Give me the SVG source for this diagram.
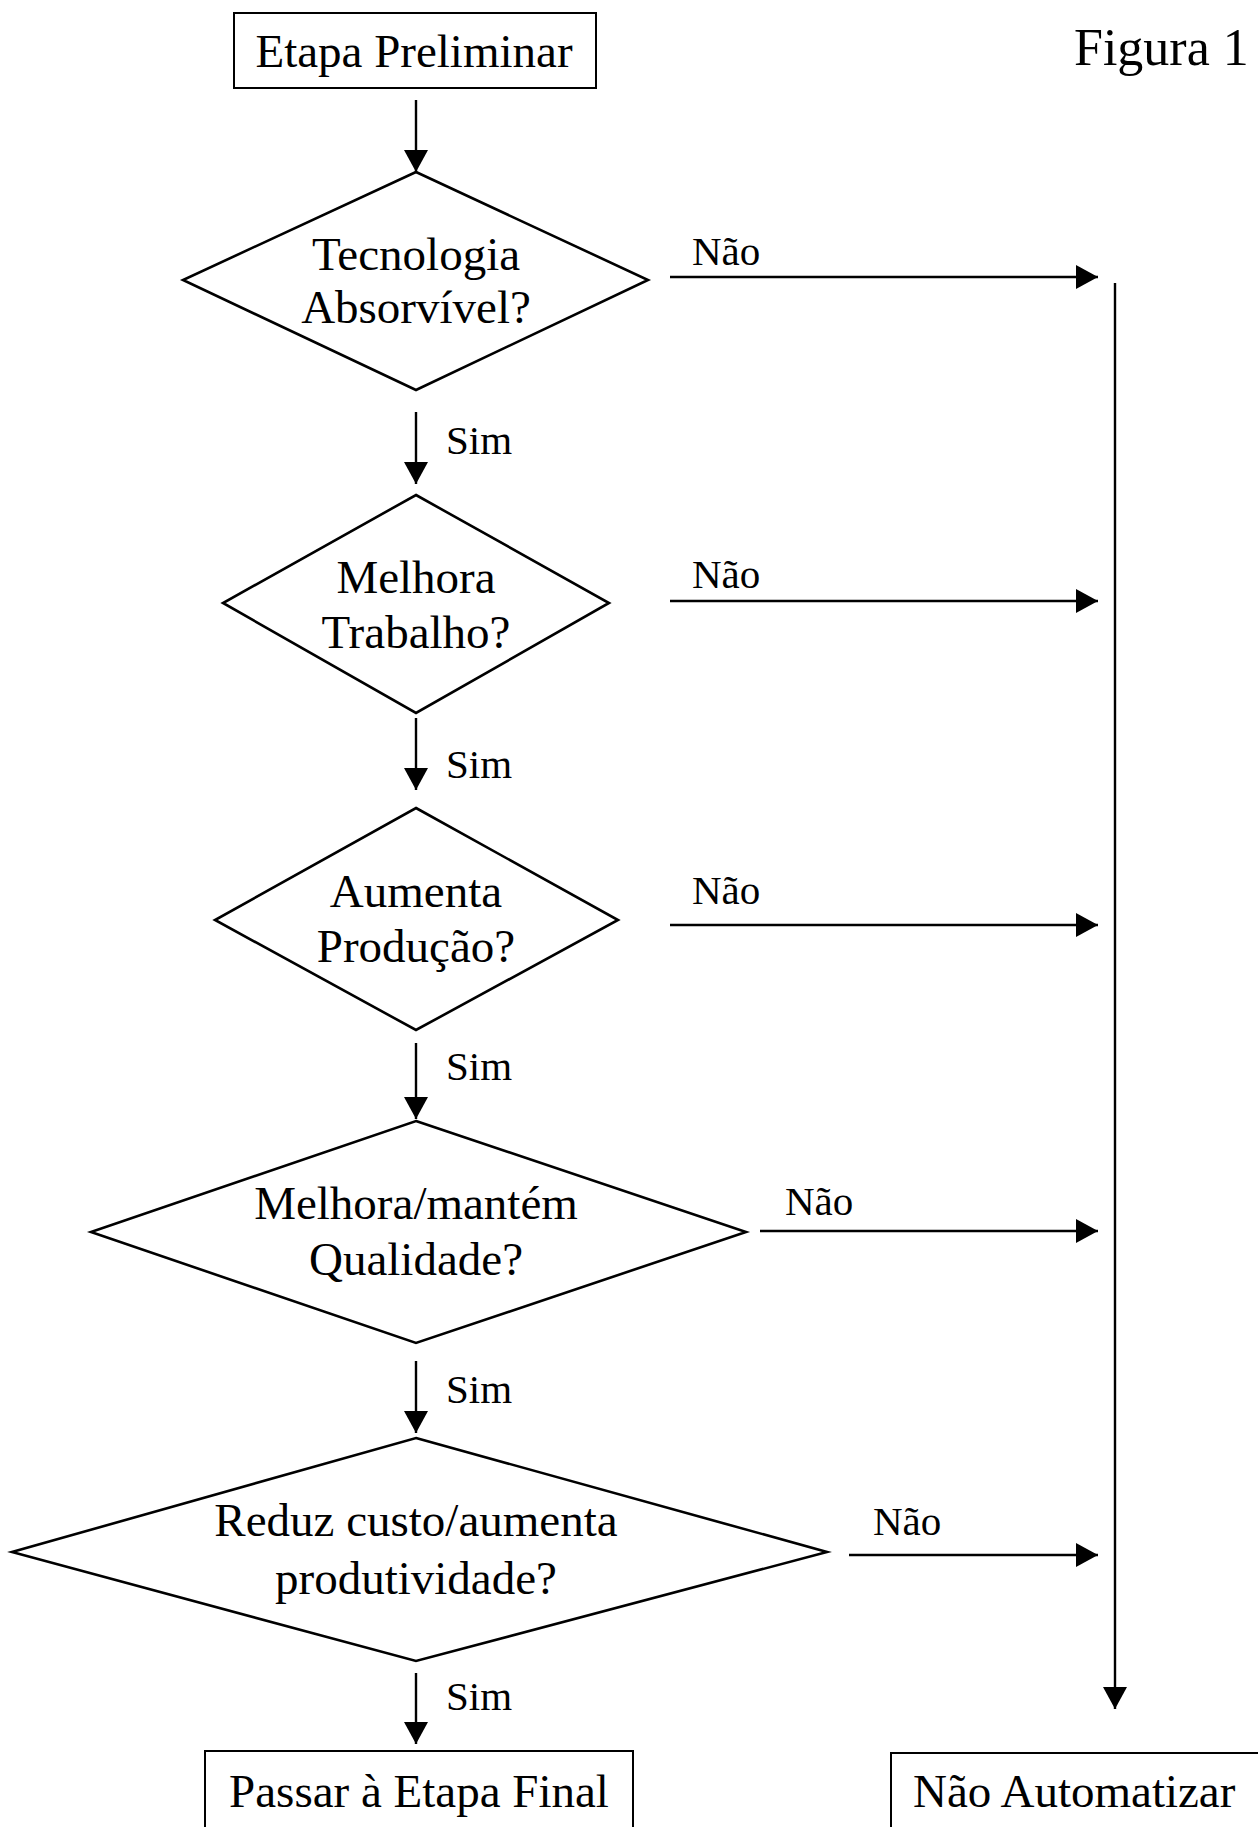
<svg xmlns="http://www.w3.org/2000/svg" width="1258" height="1827" viewBox="0 0 1258 1827">
<style>
.shape{fill:none;stroke:#000;stroke-width:2.6}
.box{fill:none;stroke:#000;stroke-width:2}
.t{font-family:"Liberation Serif","Times New Roman",serif;font-size:47px;fill:#000;text-anchor:middle}
.lbl{font-family:"Liberation Serif","Times New Roman",serif;font-size:41px;fill:#000}
.conn{stroke:#000;stroke-width:2.4;fill:none}
</style>
<defs>
<marker id="ah" markerUnits="userSpaceOnUse" markerWidth="24" markerHeight="24" viewBox="0 0 22 24" refX="22" refY="12" orient="auto">
<path d="M0,0 L22,12 L0,24 Z" fill="#000"/>
</marker>
</defs>
<rect width="1258" height="1827" fill="#fff"/>
<text id="title" class="t" x="1074" y="65" style="text-anchor:start;font-size:52px">Figura 1</text>
<g id="n-preliminar">
<rect class="box" x="234" y="13" width="362" height="75"/>
<text class="t" x="414" y="67">Etapa Preliminar</text>
</g>
<g id="n-tecnologia">
<polygon class="shape" points="416,172 648,280 416,390 183,280"/>
<text class="t" x="416" y="270">Tecnologia</text>
<text class="t" x="416" y="323">Absorvível?</text>
</g>
<g id="n-trabalho">
<polygon class="shape" points="416,495 609,603 416,713 223,603"/>
<text class="t" x="416" y="593">Melhora</text>
<text class="t" x="416" y="648">Trabalho?</text>
</g>
<g id="n-producao">
<polygon class="shape" points="416,808 618,920 416,1030 215,920"/>
<text class="t" x="416" y="907">Aumenta</text>
<text class="t" x="416" y="962">Produção?</text>
</g>
<g id="n-qualidade">
<polygon class="shape" points="416,1121 746,1232 416,1343 91,1232"/>
<text class="t" x="416" y="1219">Melhora/mantém</text>
<text class="t" x="416" y="1275">Qualidade?</text>
</g>
<g id="n-custo">
<polygon class="shape" points="416,1438 827,1552 416,1661 12,1552"/>
<text class="t" x="416" y="1536">Reduz custo/aumenta</text>
<text class="t" x="416" y="1594">produtividade?</text>
</g>
<g id="n-final">
<rect class="box" x="205" y="1751" width="428" height="90"/>
<text class="t" x="419" y="1807">Passar à Etapa Final</text>
</g>
<g id="n-nao-automatizar">
<rect class="box" x="891" y="1753" width="380" height="90"/>
<text class="t" x="913" y="1807" style="text-anchor:start">Não Automatizar</text>
</g>
<g id="connectors">
<line class="conn" x1="416" y1="100" x2="416" y2="172" marker-end="url(#ah)"/>
<line class="conn" x1="416" y1="412" x2="416" y2="484" marker-end="url(#ah)"/>
<line class="conn" x1="416" y1="718" x2="416" y2="790" marker-end="url(#ah)"/>
<line class="conn" x1="416" y1="1043" x2="416" y2="1119" marker-end="url(#ah)"/>
<line class="conn" x1="416" y1="1361" x2="416" y2="1433" marker-end="url(#ah)"/>
<line class="conn" x1="416" y1="1673" x2="416" y2="1744" marker-end="url(#ah)"/>
<line class="conn" x1="670" y1="277" x2="1098" y2="277" marker-end="url(#ah)"/>
<line class="conn" x1="670" y1="601" x2="1098" y2="601" marker-end="url(#ah)"/>
<line class="conn" x1="670" y1="925" x2="1098" y2="925" marker-end="url(#ah)"/>
<line class="conn" x1="760" y1="1231" x2="1098" y2="1231" marker-end="url(#ah)"/>
<line class="conn" x1="849" y1="1555" x2="1098" y2="1555" marker-end="url(#ah)"/>
<line class="conn" x1="1115" y1="283" x2="1115" y2="1709" marker-end="url(#ah)"/>
<text class="lbl" x="446" y="454">Sim</text>
<text class="lbl" x="446" y="778">Sim</text>
<text class="lbl" x="446" y="1080">Sim</text>
<text class="lbl" x="446" y="1403">Sim</text>
<text class="lbl" x="446" y="1710">Sim</text>
<text class="lbl" x="692" y="265">Não</text>
<text class="lbl" x="692" y="588">Não</text>
<text class="lbl" x="692" y="904">Não</text>
<text class="lbl" x="785" y="1215">Não</text>
<text class="lbl" x="873" y="1535">Não</text>
</g>
</svg>
